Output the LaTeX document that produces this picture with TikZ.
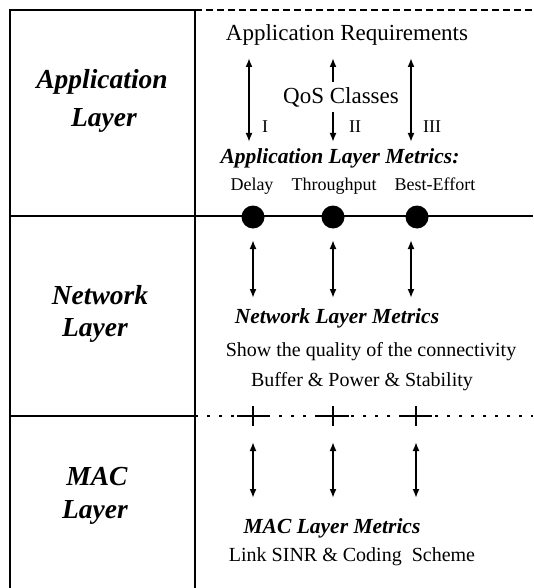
\documentclass[tikz,border=0pt]{standalone}
\usepackage{fontspec}
\setmainfont{Liberation Serif}
\usetikzlibrary{arrows.meta}
\begin{document}
\begin{tikzpicture}[x=1pt, y=-1pt, line width=1.8pt,
  layer label/.style={font=\fontsize{27.5}{30}\selectfont\bfseries\itshape},
  metric title/.style={font=\fontsize{21.5}{24}\selectfont\bfseries\itshape},
  big text/.style={font=\fontsize{23}{26}\selectfont},
  plain text/.style={font=\fontsize{20}{22}\selectfont},
  small text/.style={font=\fontsize{18}{20}\selectfont, text height=1.6ex, text depth=.5ex},
  both arrow/.style={line width=2pt, {Latex[length=9pt,width=7pt]}-{Latex[length=9pt,width=7pt]}},
  up arrow/.style={line width=2pt, -{Latex[length=9pt,width=7pt]}},
  dot node/.style={circle, fill=black, minimum size=23pt, inner sep=0pt}]%
\useasboundingbox (0,0) rectangle (533,588);
% frame of the three layers
\draw (10,588) -- (10,10) -- (195,10);
\draw[dash pattern=on 7pt off 4pt] (195,10) -- (533,10);
\draw (195,10) -- (195,588);
\draw (10,216) -- (533,216);
\draw (10,416) -- (195,416);
\draw[line width=1.3pt, dash pattern=on 3pt off 9pt] (195,416) -- (533,416);
% layer names
\begin{scope}[every node/.style={layer label}]
\node (app1) at (102,82) {Application};
\node (app2) at (104,120) {Layer};
\node (net1) at (100,295) {Network};
\node (net2) at (95,330) {Layer};
\node (mac1) at (97,477) {MAC};
\node (mac2) at (95,512) {Layer};
\end{scope}
% application layer
\node[big text] (req) at (347,35) {Application Requirements};
\node[big text] (qos) at (341,97) {QoS Classes};
\node[small text] (cl1) at (265,130) {I};
\node[small text] (cl2) at (355,130) {II};
\node[small text] (cl3) at (432,130) {III};
\node[metric title] (appm) at (340,158) {Application Layer Metrics:};
\node[small text] (delay) at (252,188) {Delay};
\node[small text] (thru) at (334,188) {Throughput};
\node[small text] (best) at (435,188) {Best-Effort};
\coordinate (q1t) at (249,58);  \coordinate (q1b) at (249,142);
\coordinate (q2t) at (333,58);  \coordinate (q2m) at (333,82);
\coordinate (q2n) at (333,112); \coordinate (q2b) at (333,142);
\coordinate (q3t) at (411,58);  \coordinate (q3b) at (411,142);
\draw[both arrow] (q1t) -- (q1b);
\draw[up arrow] (q2m) -- (q2t);
\draw[up arrow] (q2n) -- (q2b);
\draw[both arrow] (q3t) -- (q3b);
\node[dot node] (d1) at (253,217) {};
\node[dot node] (d2) at (333,217) {};
\node[dot node] (d3) at (417,217) {};
% network layer
\foreach \i/\x in {1/253,2/333,3/411} {
  \coordinate (n\i t) at (\x,240);
  \coordinate (n\i b) at (\x,298);
  \draw[both arrow] (n\i t) -- (n\i b);
}
\node[metric title] (netm) at (337,318) {Network Layer Metrics};
\node[plain text] (netq) at (371,352) {Show the quality of the connectivity};
\node[plain text] (netb) at (362,382) {Buffer \& Power \& Stability};
% mac layer
\foreach \i/\x in {1/253,2/333,3/416} {
  \draw (\x-16,416) -- (\x+16,416);
  \draw (\x,406) -- (\x,426);
  \coordinate (m\i t) at (\x,442);
  \coordinate (m\i b) at (\x,498);
  \draw[both arrow] (m\i t) -- (m\i b);
}
\node[metric title] (macm) at (332,528) {MAC Layer Metrics};
\node[plain text] (macl) at (352,557) {Link SINR \& Coding\ \ Scheme};
\end{tikzpicture}
\end{document}
